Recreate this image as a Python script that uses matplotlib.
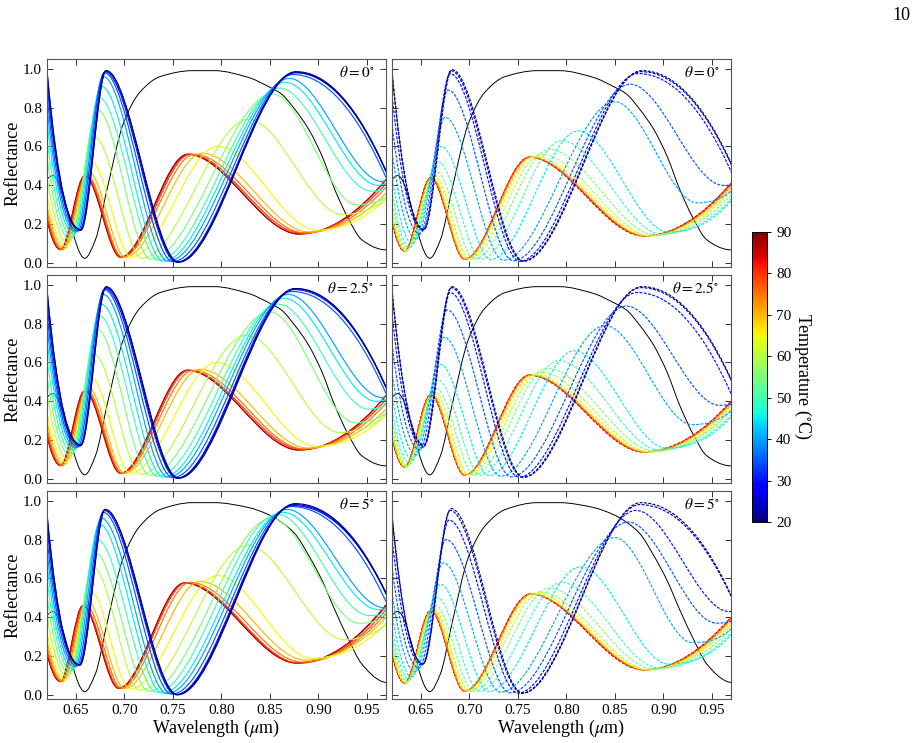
import numpy as np
import matplotlib
matplotlib.use("Agg")
import matplotlib.pyplot as plt
from matplotlib.path import Path
from matplotlib.patches import PathPatch
from matplotlib.colors import Normalize
from matplotlib.cm import ScalarMappable

plt.rcParams["font.family"] = ["Liberation Serif", "DejaVu Serif"]
plt.rcParams["mathtext.fontset"] = "stix"

TEMPS = [20, 25, 30, 35, 40, 45, 50, 55, 60, 65, 70, 75, 80, 85, 90]
ANGLES = ["0", "2.5", "5"]
X_TICKS = [0.65, 0.70, 0.75, 0.80, 0.85, 0.90, 0.95]
Y_TICKS = [0.0, 0.2, 0.4, 0.6, 0.8, 1.0]
CB_TICKS = [20, 30, 40, 50, 60, 70, 80, 90]

nan = float("nan")

# extrema, one row per temperature:
# peak0 (x, R), trough1, peak1, trough2, peak2, trough3, R at 0.97 um (nan = trough3 past the edge)
LEFT_0 = [
    [0.620, 0.99, 0.655, 0.17, 0.681, 0.99, 0.756, 0.005, 0.877, 0.985, 0.972, 0.45, nan],
    [0.620, 0.985, 0.655, 0.17, 0.681, 0.99, 0.755, 0.005, 0.877, 0.98, 0.972, 0.45, nan],
    [0.619, 0.98, 0.654, 0.17, 0.680, 0.985, 0.754, 0.005, 0.876, 0.98, 0.972, 0.45, nan],
    [0.618, 0.965, 0.652, 0.165, 0.679, 0.98, 0.750, 0.008, 0.874, 0.97, 0.970, 0.44, nan],
    [0.617, 0.945, 0.650, 0.16, 0.678, 0.96, 0.745, 0.01, 0.870, 0.95, 0.966, 0.42, 0.425],
    [0.616, 0.92, 0.648, 0.15, 0.676, 0.91, 0.740, 0.01, 0.866, 0.93, 0.962, 0.40, 0.41],
    [0.615, 0.86, 0.646, 0.135, 0.674, 0.85, 0.735, 0.015, 0.860, 0.90, 0.955, 0.37, 0.38],
    [0.614, 0.79, 0.644, 0.12, 0.672, 0.79, 0.727, 0.02, 0.853, 0.87, 0.940, 0.30, 0.34],
    [0.613, 0.70, 0.642, 0.10, 0.669, 0.65, 0.718, 0.025, 0.828, 0.74, 0.925, 0.25, 0.33],
    [0.612, 0.59, 0.640, 0.085, 0.666, 0.52, 0.707, 0.03, 0.796, 0.60, 0.898, 0.17, 0.33],
    [0.612, 0.53, 0.638, 0.075, 0.663, 0.47, 0.701, 0.03, 0.780, 0.565, 0.890, 0.16, 0.36],
    [0.612, 0.50, 0.636, 0.07, 0.661, 0.455, 0.698, 0.03, 0.772, 0.56, 0.886, 0.155, 0.39],
    [0.612, 0.46, 0.635, 0.07, 0.660, 0.45, 0.697, 0.03, 0.768, 0.56, 0.882, 0.155, 0.41],
    [0.612, 0.44, 0.634, 0.07, 0.659, 0.45, 0.696, 0.03, 0.766, 0.56, 0.880, 0.15, 0.43],
    [0.612, 0.435, 0.634, 0.07, 0.659, 0.45, 0.696, 0.03, 0.765, 0.56, 0.880, 0.15, 0.43],
]
LEFT_25 = [
    [0.620, 0.975, 0.655, 0.175, 0.681, 0.99, 0.756, 0.005, 0.877, 0.98, 0.972, 0.45, nan],
    [0.620, 0.97, 0.655, 0.175, 0.681, 0.985, 0.755, 0.005, 0.876, 0.98, 0.972, 0.45, nan],
    [0.619, 0.96, 0.654, 0.17, 0.680, 0.98, 0.754, 0.005, 0.875, 0.975, 0.972, 0.45, nan],
    [0.618, 0.95, 0.652, 0.165, 0.679, 0.975, 0.750, 0.008, 0.873, 0.965, 0.970, 0.44, nan],
    [0.617, 0.93, 0.650, 0.16, 0.678, 0.95, 0.745, 0.01, 0.869, 0.95, 0.966, 0.42, 0.425],
    [0.616, 0.90, 0.648, 0.15, 0.676, 0.90, 0.740, 0.01, 0.865, 0.93, 0.960, 0.40, 0.41],
    [0.615, 0.84, 0.646, 0.135, 0.674, 0.84, 0.734, 0.015, 0.859, 0.90, 0.952, 0.36, 0.38],
    [0.614, 0.77, 0.644, 0.12, 0.672, 0.77, 0.726, 0.02, 0.850, 0.86, 0.938, 0.29, 0.34],
    [0.613, 0.69, 0.642, 0.10, 0.669, 0.64, 0.717, 0.025, 0.826, 0.74, 0.922, 0.24, 0.33],
    [0.612, 0.59, 0.640, 0.085, 0.666, 0.52, 0.706, 0.03, 0.795, 0.60, 0.897, 0.17, 0.33],
    [0.612, 0.53, 0.638, 0.075, 0.663, 0.47, 0.700, 0.03, 0.778, 0.565, 0.889, 0.16, 0.36],
    [0.612, 0.50, 0.636, 0.07, 0.661, 0.46, 0.698, 0.03, 0.771, 0.56, 0.885, 0.155, 0.39],
    [0.612, 0.46, 0.635, 0.07, 0.660, 0.455, 0.697, 0.03, 0.767, 0.56, 0.882, 0.155, 0.41],
    [0.612, 0.44, 0.634, 0.07, 0.659, 0.455, 0.696, 0.03, 0.765, 0.56, 0.880, 0.15, 0.43],
    [0.612, 0.435, 0.634, 0.07, 0.659, 0.455, 0.696, 0.03, 0.765, 0.56, 0.880, 0.15, 0.43],
]
LEFT_5 = [
    [0.620, 0.93, 0.654, 0.155, 0.680, 0.955, 0.755, 0.002, 0.876, 0.985, 0.975, 0.47, nan],
    [0.620, 0.93, 0.654, 0.155, 0.680, 0.955, 0.754, 0.002, 0.875, 0.98, 0.975, 0.47, nan],
    [0.619, 0.92, 0.653, 0.155, 0.679, 0.95, 0.753, 0.003, 0.874, 0.975, 0.975, 0.47, nan],
    [0.618, 0.905, 0.651, 0.15, 0.678, 0.94, 0.749, 0.005, 0.872, 0.97, 0.972, 0.46, nan],
    [0.617, 0.885, 0.649, 0.145, 0.676, 0.91, 0.744, 0.008, 0.868, 0.955, 0.968, 0.45, 0.45],
    [0.616, 0.86, 0.647, 0.135, 0.674, 0.88, 0.739, 0.01, 0.864, 0.94, 0.962, 0.44, 0.445],
    [0.615, 0.81, 0.645, 0.125, 0.672, 0.80, 0.733, 0.015, 0.858, 0.93, 0.952, 0.41, 0.42],
    [0.614, 0.75, 0.643, 0.11, 0.670, 0.73, 0.725, 0.02, 0.852, 0.91, 0.942, 0.37, 0.40],
    [0.613, 0.66, 0.641, 0.095, 0.668, 0.655, 0.716, 0.025, 0.827, 0.77, 0.927, 0.285, 0.36],
    [0.612, 0.57, 0.639, 0.08, 0.665, 0.535, 0.706, 0.03, 0.796, 0.615, 0.893, 0.19, 0.37],
    [0.612, 0.51, 0.637, 0.075, 0.662, 0.48, 0.700, 0.035, 0.778, 0.585, 0.887, 0.18, 0.40],
    [0.612, 0.48, 0.636, 0.07, 0.660, 0.465, 0.697, 0.035, 0.768, 0.58, 0.883, 0.17, 0.42],
    [0.612, 0.45, 0.635, 0.07, 0.658, 0.46, 0.695, 0.035, 0.764, 0.578, 0.880, 0.165, 0.44],
    [0.612, 0.43, 0.634, 0.07, 0.657, 0.46, 0.694, 0.035, 0.762, 0.577, 0.878, 0.165, 0.46],
    [0.612, 0.425, 0.634, 0.07, 0.657, 0.46, 0.694, 0.035, 0.762, 0.577, 0.878, 0.165, 0.465],
]
RIGHT_0 = [
    [0.620, 0.99, 0.653, 0.175, 0.682, 0.995, 0.756, 0.01, 0.878, 0.99, 0.975, 0.46, nan],
    [0.620, 0.985, 0.653, 0.17, 0.681, 0.99, 0.755, 0.01, 0.877, 0.985, 0.975, 0.455, nan],
    [0.618, 0.965, 0.652, 0.17, 0.680, 0.975, 0.752, 0.01, 0.874, 0.975, 0.972, 0.45, nan],
    [0.616, 0.89, 0.649, 0.15, 0.678, 0.89, 0.745, 0.012, 0.866, 0.92, 0.962, 0.40, 0.40],
    [0.614, 0.81, 0.645, 0.125, 0.675, 0.75, 0.735, 0.015, 0.850, 0.83, 0.935, 0.31, 0.37],
    [0.613, 0.70, 0.641, 0.10, 0.671, 0.60, 0.722, 0.018, 0.812, 0.68, 0.905, 0.16, 0.32],
    [0.612, 0.64, 0.638, 0.08, 0.668, 0.52, 0.712, 0.02, 0.795, 0.63, 0.898, 0.15, 0.33],
    [0.612, 0.57, 0.636, 0.07, 0.666, 0.47, 0.705, 0.02, 0.782, 0.585, 0.892, 0.145, 0.35],
    [0.612, 0.52, 0.635, 0.065, 0.664, 0.45, 0.700, 0.02, 0.774, 0.56, 0.888, 0.14, 0.37],
    [0.612, 0.48, 0.634, 0.062, 0.662, 0.445, 0.698, 0.02, 0.768, 0.55, 0.885, 0.14, 0.38],
    [0.612, 0.46, 0.634, 0.062, 0.661, 0.44, 0.696, 0.02, 0.765, 0.545, 0.883, 0.14, 0.39],
    [0.612, 0.45, 0.634, 0.062, 0.661, 0.44, 0.695, 0.02, 0.763, 0.545, 0.882, 0.14, 0.40],
    [0.612, 0.44, 0.633, 0.062, 0.660, 0.44, 0.695, 0.02, 0.762, 0.545, 0.881, 0.14, 0.41],
    [0.612, 0.43, 0.633, 0.062, 0.660, 0.44, 0.695, 0.02, 0.762, 0.545, 0.880, 0.14, 0.41],
    [0.612, 0.43, 0.633, 0.062, 0.660, 0.44, 0.695, 0.02, 0.762, 0.545, 0.880, 0.14, 0.41],
]
RIGHT_25 = [
    [0.620, 0.975, 0.653, 0.175, 0.682, 0.99, 0.756, 0.01, 0.878, 0.99, 0.975, 0.46, nan],
    [0.620, 0.97, 0.653, 0.17, 0.681, 0.985, 0.755, 0.01, 0.877, 0.985, 0.975, 0.455, nan],
    [0.618, 0.95, 0.652, 0.165, 0.680, 0.96, 0.751, 0.01, 0.873, 0.96, 0.970, 0.44, nan],
    [0.616, 0.87, 0.649, 0.15, 0.677, 0.87, 0.743, 0.012, 0.862, 0.89, 0.958, 0.38, 0.385],
    [0.614, 0.78, 0.645, 0.125, 0.674, 0.73, 0.732, 0.015, 0.840, 0.79, 0.930, 0.28, 0.35],
    [0.613, 0.68, 0.641, 0.10, 0.670, 0.59, 0.720, 0.018, 0.808, 0.66, 0.903, 0.16, 0.32],
    [0.612, 0.62, 0.638, 0.08, 0.668, 0.51, 0.711, 0.02, 0.792, 0.61, 0.896, 0.15, 0.33],
    [0.612, 0.56, 0.636, 0.07, 0.666, 0.465, 0.705, 0.02, 0.780, 0.57, 0.891, 0.145, 0.35],
    [0.612, 0.51, 0.635, 0.065, 0.664, 0.45, 0.700, 0.02, 0.773, 0.55, 0.887, 0.14, 0.36],
    [0.612, 0.47, 0.634, 0.062, 0.662, 0.44, 0.698, 0.02, 0.768, 0.54, 0.885, 0.14, 0.37],
    [0.612, 0.45, 0.634, 0.062, 0.661, 0.435, 0.696, 0.02, 0.765, 0.535, 0.883, 0.14, 0.38],
    [0.612, 0.44, 0.634, 0.062, 0.661, 0.435, 0.695, 0.02, 0.763, 0.535, 0.882, 0.14, 0.39],
    [0.612, 0.43, 0.633, 0.062, 0.660, 0.435, 0.695, 0.02, 0.762, 0.535, 0.881, 0.14, 0.40],
    [0.612, 0.425, 0.633, 0.062, 0.660, 0.435, 0.695, 0.02, 0.762, 0.535, 0.880, 0.14, 0.40],
    [0.612, 0.425, 0.633, 0.062, 0.660, 0.435, 0.695, 0.02, 0.762, 0.535, 0.880, 0.14, 0.40],
]
RIGHT_5 = [
    [0.620, 0.93, 0.652, 0.16, 0.681, 0.96, 0.755, 0.01, 0.877, 0.99, 0.975, 0.46, nan],
    [0.620, 0.92, 0.652, 0.16, 0.680, 0.95, 0.754, 0.01, 0.876, 0.98, 0.975, 0.455, nan],
    [0.618, 0.90, 0.651, 0.155, 0.679, 0.90, 0.750, 0.01, 0.872, 0.95, 0.968, 0.43, 0.43],
    [0.616, 0.83, 0.648, 0.14, 0.676, 0.80, 0.742, 0.012, 0.864, 0.89, 0.955, 0.37, 0.38],
    [0.614, 0.75, 0.644, 0.12, 0.673, 0.68, 0.732, 0.015, 0.850, 0.81, 0.930, 0.27, 0.34],
    [0.613, 0.66, 0.640, 0.095, 0.670, 0.57, 0.720, 0.018, 0.815, 0.66, 0.905, 0.16, 0.31],
    [0.612, 0.60, 0.638, 0.08, 0.667, 0.50, 0.710, 0.02, 0.795, 0.58, 0.895, 0.14, 0.32],
    [0.612, 0.55, 0.636, 0.07, 0.665, 0.46, 0.704, 0.02, 0.782, 0.55, 0.890, 0.135, 0.34],
    [0.612, 0.50, 0.635, 0.065, 0.663, 0.445, 0.700, 0.02, 0.773, 0.53, 0.886, 0.13, 0.36],
    [0.612, 0.47, 0.634, 0.062, 0.662, 0.44, 0.698, 0.02, 0.768, 0.525, 0.884, 0.13, 0.37],
    [0.612, 0.45, 0.634, 0.062, 0.661, 0.435, 0.696, 0.02, 0.765, 0.52, 0.883, 0.13, 0.38],
    [0.612, 0.44, 0.634, 0.062, 0.661, 0.435, 0.695, 0.02, 0.764, 0.52, 0.882, 0.13, 0.39],
    [0.612, 0.43, 0.633, 0.062, 0.660, 0.435, 0.695, 0.02, 0.763, 0.52, 0.881, 0.13, 0.40],
    [0.612, 0.425, 0.633, 0.062, 0.660, 0.435, 0.695, 0.02, 0.763, 0.52, 0.880, 0.13, 0.40],
    [0.612, 0.425, 0.633, 0.062, 0.660, 0.435, 0.695, 0.02, 0.763, 0.52, 0.880, 0.13, 0.40],
]

# reference spectrum (black), same wavelengths for every row
BLACK_X = [0.62, 0.626, 0.659, 0.670, 0.682, 0.699, 0.716, 0.737, 0.770, 0.793, 0.828,
           0.848, 0.862, 0.876, 0.890, 0.904, 0.917, 0.931, 0.945, 0.966, 0.97]
BLACK_0 = [0.43, 0.45, 0.025, 0.12, 0.38, 0.72, 0.88, 0.96, 0.99, 0.99, 0.955,
           0.91, 0.87, 0.79, 0.69, 0.55, 0.38, 0.23, 0.12, 0.07, 0.068]
BLACK_25 = [0.42, 0.44, 0.022, 0.12, 0.38, 0.72, 0.88, 0.96, 0.99, 0.99, 0.955,
            0.91, 0.87, 0.79, 0.69, 0.55, 0.38, 0.23, 0.12, 0.07, 0.068]
BLACK_5 = [0.41, 0.43, 0.018, 0.11, 0.37, 0.71, 0.87, 0.955, 0.99, 0.99, 0.965,
           0.93, 0.89, 0.83, 0.72, 0.59, 0.44, 0.29, 0.16, 0.07, 0.065]

LEFT = [LEFT_0, LEFT_25, LEFT_5]
RIGHT = [RIGHT_0, RIGHT_25, RIGHT_5]
BLACK = [BLACK_0, BLACK_25, BLACK_5]


def _end_slope(h0, h1, d0, d1):
    s = ((2 * h0 + h1) * d0 - h0 * d1) / (h0 + h1)
    if np.sign(s) != np.sign(d0):
        return 0.0
    if np.sign(d0) != np.sign(d1) and abs(s) > abs(3 * d0):
        return 3 * d0
    return s


def spectrum_path(x, y):
    # monotone cubic through the read points, handed to matplotlib as Bezier segments
    x = np.asarray(x, float)
    y = np.asarray(y, float)
    h = np.diff(x)
    d = np.diff(y) / h
    m = np.zeros_like(y)
    for k in range(1, len(x) - 1):
        if d[k - 1] * d[k] > 0:
            w1, w2 = 2 * h[k] + h[k - 1], h[k] + 2 * h[k - 1]
            m[k] = (w1 + w2) / (w1 / d[k - 1] + w2 / d[k])
    m[0] = _end_slope(h[0], h[1], d[0], d[1])
    m[-1] = _end_slope(h[-1], h[-2], d[-1], d[-2])
    verts = [(x[0], y[0])]
    codes = [Path.MOVETO]
    for k in range(len(h)):
        verts += [(x[k] + h[k] / 3, y[k] + m[k] * h[k] / 3),
                  (x[k + 1] - h[k] / 3, y[k + 1] - m[k + 1] * h[k] / 3),
                  (x[k + 1], y[k + 1])]
        codes += [Path.CURVE4] * 3
    return Path(verts, codes)


def anchors(row):
    xs = list(row[0:12:2])
    ys = list(row[1:12:2])
    if not np.isnan(row[12]):
        xs.append(0.97)
        ys.append(row[12])
    return xs, ys


W, H = 917, 743
fig = plt.figure(figsize=(W / 100, H / 100), dpi=100)
cmap = plt.get_cmap("jet")
norm = Normalize(20, 90)

col_left = [47, 392]
row_top = [59, 275, 491]
pw, ph = 339, 208

for r in range(3):
    for c in range(2):
        ax = fig.add_axes([col_left[c] / W, 1 - (row_top[r] + ph) / H, pw / W, ph / H])
        ax.add_patch(PathPatch(spectrum_path(BLACK_X, BLACK[r]), fill=False,
                               ec="black", lw=0.7, zorder=1))
        table = LEFT[r] if c == 0 else RIGHT[r]
        ls = "-" if c == 0 else (0, (2.5, 1.2))
        for T, row in reversed(list(zip(TEMPS, table))):
            xs, ys = anchors(row)
            ax.add_patch(PathPatch(spectrum_path(xs, ys), fill=False, ec=cmap(norm(T)),
                                   lw=0.85, ls=ls, zorder=2))
        ax.set_xlim(0.62, 0.97)
        ax.set_ylim(-0.02, 1.05)
        ax.set_xticks(X_TICKS)
        ax.set_yticks(Y_TICKS)
        ax.tick_params(direction="in", top=True, right=True, length=4, width=0.7,
                       labelsize=11, colors="#333333", labelcolor="black")
        for sp in ax.spines.values():
            sp.set_color("#555555")
            sp.set_linewidth(0.8)
        if r < 2:
            ax.tick_params(labelbottom=False)
        else:
            ax.set_xticklabels([f"{v:.2f}" for v in X_TICKS])
            ax.set_xlabel(r"Wavelength ($\mu$m)", fontsize=13, labelpad=1)
        if c == 1:
            ax.tick_params(labelleft=False)
        else:
            ax.set_yticklabels([f"{v:.1f}" for v in Y_TICKS])
            ax.set_ylabel("Reflectance", fontsize=13, labelpad=1)
        ax.text(0.965, 0.935, r"$\theta = %s^{\circ}$" % ANGLES[r], transform=ax.transAxes,
                ha="right", va="center", fontsize=11)

cax = fig.add_axes([752 / W, 1 - 522 / H, 15 / W, 290 / H])
cb = fig.colorbar(ScalarMappable(norm=norm, cmap=cmap), cax=cax, ticks=CB_TICKS)
cb.ax.tick_params(labelsize=11, length=3, width=0.7)
cb.outline.set_linewidth(0.7)
cb.set_label(r"Temperature ($^{\circ}$C)", rotation=270, fontsize=13, labelpad=16)

fig.text(901 / W, 1 - 15 / H, "10", ha="center", va="center", fontsize=13)

fig.savefig("out.png", dpi=100)
